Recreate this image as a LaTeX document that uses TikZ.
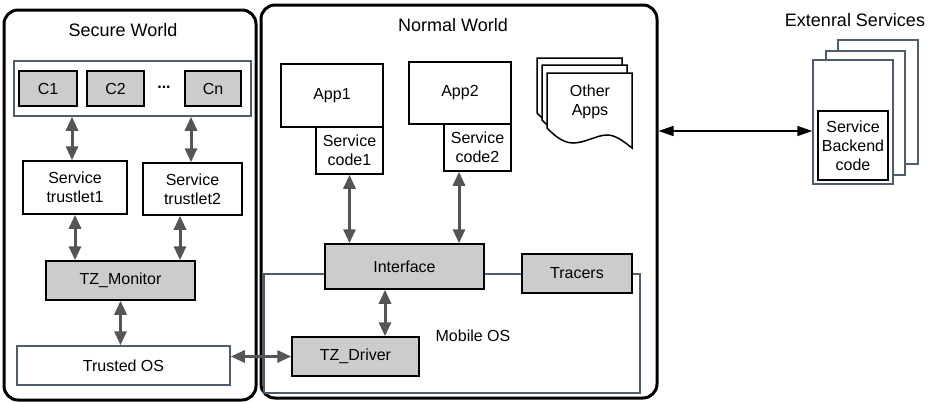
\documentclass[tikz,border=0pt]{standalone}
\usepackage{fontspec}
\setmainfont{Liberation Sans}
\usetikzlibrary{arrows.meta,calc}
\definecolor{slate}{RGB}{78,92,108}
\definecolor{boxgrey}{RGB}{204,204,204}
\definecolor{arrowgrey}{RGB}{85,85,85}
\newcommand\lblfont{\fontsize{16}{19}\selectfont}
\newcommand\ttlfont{\fontsize{18}{21}\selectfont}
% one page of the "Other Apps" document stack
\newcommand\docpage{%
  (547,73) -- (632,73) -- (632,148)
  .. controls (622,140) and (615,135) .. (607,135)
  .. controls (597,135) and (585,143) .. (573,143)
  .. controls (562,143) and (553,134) .. (547,128) -- cycle}
\begin{document}
\begin{tikzpicture}[x=1pt,y=-1pt,
  world/.style={draw=black,line width=3pt,rounded corners=14pt,inner sep=0pt},
  wbox/.style={draw=black,line width=1.5pt,fill=white,font=\lblfont,align=center,inner sep=0pt},
  gbox/.style={wbox,fill=boxgrey},
  sbox/.style={draw=slate,line width=1.5pt,fill=white,inner sep=0pt},
  ttl/.style={font=\ttlfont,inner sep=0pt},
  lbl/.style={font=\lblfont,align=center,inner sep=0pt},
  garrow/.style={draw=arrowgrey,line width=3pt,
    {Triangle[length=14pt,width=12pt]}-{Triangle[length=14pt,width=12pt]}},
  barrow/.style={draw=black,line width=1.5pt,
    {Triangle[length=15pt,width=10pt]}-{Triangle[length=15pt,width=10pt]}},
]
\useasboundingbox (0,0) rectangle (930,402);

% the two worlds
\node[world,minimum width=252pt,minimum height=390pt] (sw) at (130,205) {};
\node[world,minimum width=396pt,minimum height=393pt] (nw) at (459,201.5) {};
\node[ttl] (swt) at (123,30) {Secure World};
\node[ttl] (nwt) at (453,25) {Normal World};
\node[ttl] (ext) at (855,20) {Extenral Services};

% secure world
\node[sbox,minimum width=237pt,minimum height=55pt] (cgrp) at (132.5,88.5) {};
\node[gbox,minimum width=58pt,minimum height=35pt] (c1) at (48,88.5) {C1};
\node[gbox,minimum width=57pt,minimum height=35pt] (c2) at (115.5,88.5) {C2};
\node[lbl,font=\lblfont\bfseries] (dots) at (164,87) {...};
\node[gbox,minimum width=56pt,minimum height=35pt] (cn) at (213,88.5) {Cn};
\node[wbox,minimum width=104pt,minimum height=53pt] (t1) at (75,187.5) {Service\\trustlet1};
\node[wbox,minimum width=99pt,minimum height=52pt] (t2) at (192.5,189) {Service\\trustlet2};
\node[gbox,minimum width=149pt,minimum height=39pt] (mon) at (120.5,280.5) {TZ\_Monitor};
\node[wbox,draw=slate,minimum width=213pt,minimum height=39pt] (tos) at (123.5,365.5) {Trusted OS};

% normal world
\node[sbox,minimum width=376pt,minimum height=119pt] (mos) at (452,333.5) {};
\node[lbl] (mosl) at (473,336) {Mobile OS};
\node[wbox,minimum width=102pt,minimum height=63pt] (app1) at (332,95.5) {App1};
\node[wbox,minimum width=67pt,minimum height=47pt] (sc1) at (349.5,150.5) {Service\\code1};
\node[wbox,minimum width=102pt,minimum height=62pt] (app2) at (460,93) {App2};
\node[wbox,minimum width=67pt,minimum height=47pt] (sc2) at (477.5,147.5) {Service\\code2};
\node[gbox,minimum width=159pt,minimum height=45pt] (iface) at (404.5,266.5) {Interface};
\node[gbox,minimum width=110pt,minimum height=39pt] (trc) at (577,273.5) {Tracers};
\node[gbox,minimum width=127pt,minimum height=39pt] (tzd) at (355.5,356.5) {TZ\_Driver};

% other apps stack
\begin{scope}[shift={(-10,-15)}]
  \draw[line width=1.5pt,fill=white] \docpage;
\end{scope}
\begin{scope}[shift={(-5,-8)}]
  \draw[line width=1.5pt,fill=white] \docpage;
\end{scope}
\draw[line width=1.5pt,fill=white] \docpage;
\node[lbl] (oth) at (590,102) {Other\\Apps};

% external services stack
\node[sbox,minimum width=80pt,minimum height=124pt] (ext3) at (878,102) {};
\node[sbox,minimum width=79pt,minimum height=124pt] (ext2) at (865.5,113) {};
\node[sbox,minimum width=80pt,minimum height=124pt] (ext1) at (853,122) {};
\node[wbox,line width=2.5pt,minimum width=70pt,minimum height=69pt] (bk) at (853,145.5) {Service\\Backend\\code};

% connector columns and rows
\coordinate (xa) at (72,0);
\coordinate (xb) at (191,0);
\coordinate (xc) at (75,0);
\coordinate (xd) at (180,0);
\coordinate (xe) at (459,0);
\coordinate (xf) at (385,0);
\coordinate (ya) at (0,131);

\draw[garrow] (cgrp.south -| xa) -- (t1.north -| xa);
\draw[garrow] (cgrp.south -| xb) -- (t2.north -| xb);
\draw[garrow] (t1.south -| xc) -- (mon.north -| xc);
\draw[garrow] (t2.south -| xd) -- (mon.north -| xd);
\draw[garrow] (mon.south) -- (tos.north -| mon.south);
\draw[garrow] (sc1.south) -- (iface.north -| sc1.south);
\draw[garrow] (sc2.south -| xe) -- (iface.north -| xe);
\draw[garrow] (iface.south -| xf) -- (tzd.north -| xf);
\draw[garrow] (tos.east |- tzd.west) -- (tzd.west);
\draw[barrow] (nw.east |- ya) -- (ext1.west |- ya);
\end{tikzpicture}
\end{document}
